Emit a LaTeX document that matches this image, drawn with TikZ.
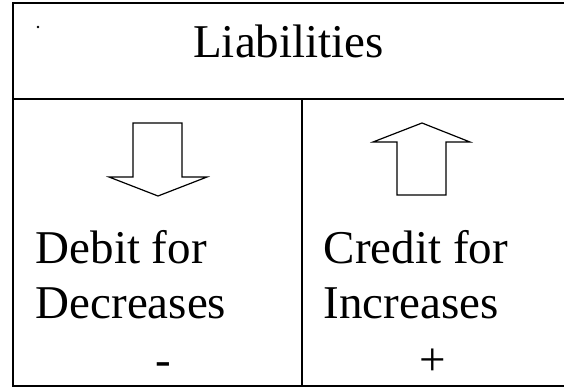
\documentclass[tikz,border=0pt]{standalone}
\usepackage{fontspec}
\setmainfont{Liberation Serif}
\tikzset{lbl/.style={inner sep=0pt,anchor=base west}}
\begin{document}
\begin{tikzpicture}[x=1pt,y=-1pt,line width=1.5pt,font=\fontsize{47}{56}\selectfont]
	\useasboundingbox (0,0) rectangle (564,387);
	\clip (0,0) rectangle (564,387);
	\draw (13,3) rectangle (567,386);
	\draw (13,99)--(567,99);
	\draw (302,99)--(302,386);
	\fill (38,27) circle (1.3pt);
	\node[inner sep=0pt,anchor=base] (title) at (288.5,58) {Liabilities};
	% down and up block arrows
	\draw[line width=1.2pt] (133,123)--(182,123)--(182,177)--(207,177)--(158,196)--(109,177)--(133,177)--cycle;
	\draw[line width=1.2pt] (422,123)--(470,142)--(446,142)--(446,195)--(397,195)--(397,142)--(373,142)--cycle;
	\node[lbl] (debit) at (35,263) {Debit for};
	\node[lbl] (decr) at (35,318) {Decreases};
	\node[lbl] (credit) at (323,263) {Credit for};
	\node[lbl] (incr) at (323,318) {Increases};
	\node[lbl] (minus) at (155,375) {-};
	\node[lbl] (plus) at (418.6,375) {+};
\end{tikzpicture}
\end{document}
